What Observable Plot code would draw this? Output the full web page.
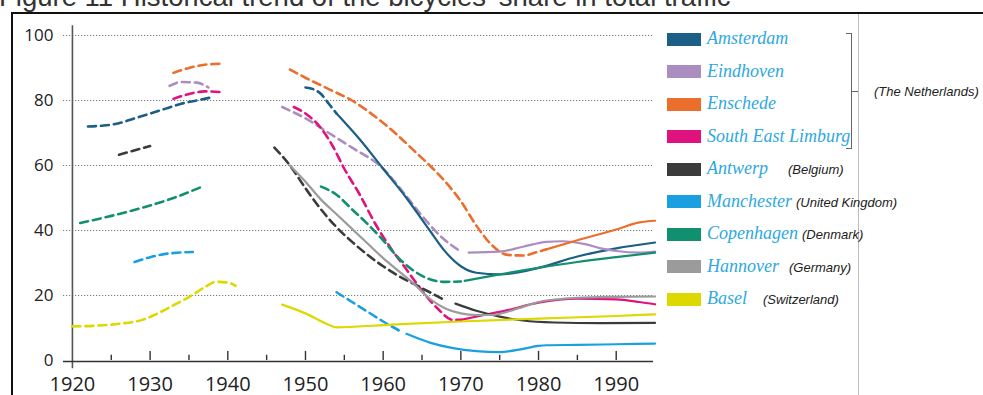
<!DOCTYPE html>
<html><head><meta charset="utf-8">
<script src="https://cdn.jsdelivr.net/npm/d3@7"></script>
<script src="https://cdn.jsdelivr.net/npm/@observablehq/plot@0.6"></script>
<style>
body{margin:0;background:#fff;}
#wrap{position:relative;width:983px;height:395px;overflow:hidden;font-family:"Liberation Sans",Arial,sans-serif;}
#title{position:absolute;left:-1px;top:-17px;font-size:27.5px;line-height:28px;color:#333;white-space:nowrap;}
#frame{position:absolute;left:11px;top:12px;width:980px;height:400px;border-left:2px solid #111;border-top:2px solid #111;}
#rline{position:absolute;left:858px;top:14px;width:1px;height:381px;background:#bdbdbd;}
#chart{position:absolute;left:0;top:0;}
.sw{position:absolute;width:34px;height:13px;}
.lab{position:absolute;font-family:"Liberation Serif","Times New Roman",serif;font-style:italic;font-size:18px;color:#2ea8e0;white-space:nowrap;line-height:18px;}
.cty{position:absolute;font-family:"Liberation Sans",Arial,sans-serif;font-style:italic;font-size:13px;color:#222;white-space:nowrap;line-height:13px;}
.br{position:absolute;background:#666;}
</style></head>
<body>
<div id="wrap">
  <div id="title">Figure 11 Historical trend of the bicycles’ share in total traffic</div>
  <div id="frame"></div>
  <div id="rline"></div>
  <div id="chart"></div>
  <div id="legend"></div>
</div>
<script>
// ---- categories ----
const cities = ["Amsterdam","Eindhoven","Enschede","South East Limburg","Antwerp","Manchester","Copenhagen","Hannover","Basel"];
const countries = ["","","","","(Belgium)","(United Kingdom)","(Denmark)","(Germany)","(Switzerland)"];
const countryX = [0,0,0,0,788,796,802,789,763];
const colors = ["#1b5e86","#ab8ebf","#ec6e2c","#e0137e","#3b3b3b","#1aa0e0","#10906f","#9b9b9b","#dcd800"];
const groupLabel = "(The Netherlands)";

// ---- tick labels ----
const yTicks = [0,20,40,60,80,100];
const xTicks = [1920,1930,1940,1950,1960,1970,1980,1990];
const xMinorTicks = [1925,1935,1945,1955,1965,1975,1985];

// ---- series values [year, share %] ----
const amsterdamPre = [[1922,72],[1924,72.3],[1926,73],[1928,74.5],[1930,76],[1932,77.5],[1934,79],[1936,80],[1938,81]];
const amsterdamPostDash = [[1950,84],[1951,83.5],[1952,82],[1953,79],[1954,76]];
const amsterdamSolid = [[1954,76],[1957,68],[1960,59],[1963,50],[1966,40],[1968,33.5],[1970,29],[1972,27],[1975,26.5],[1980,28.5],[1985,32],[1990,34.5],[1995,36.3]];

const eindhovenPre = [[1932.5,84.5],[1934,85.7],[1936,85.5],[1937.5,84]];
const eindhovenPostDash = [[1947,78],[1950,74.5],[1953,70],[1956,65.5],[1960,59],[1962.5,52],[1965,44.5],[1967.5,38],[1970,33.5]];
const eindhovenSolid = [[1971,33.2],[1975,33.5],[1978,35],[1981,36.5],[1983,36.7],[1986,35.8],[1988,34.5],[1990,33.7],[1993,33.2],[1995,33.5]];

const enschedePre = [[1933,88.5],[1935,90],[1937,91],[1939,91.3]];
const enschedePostDash = [[1948,89.5],[1950,87],[1953,83.5],[1956,80],[1959,75],[1962,69],[1964,64.5],[1966,60],[1968,55],[1970,49],[1972,41.5],[1974,35.5],[1976,32.5],[1978,32.3],[1980,33.5],[1981,34.2]];
const enschedeSolid = [[1981,34.2],[1985,37],[1990,40.3],[1993,42.5],[1995,43]];

const limburgPre = [[1933,80.5],[1935,82],[1937,82.8],[1939,82.6]];
const limburgPostDash = [[1948.5,78],[1950,76],[1952,71.5],[1953.5,66],[1955,59],[1957,51],[1959,42],[1961,34.5],[1963,28],[1965,21.5],[1967,16],[1969,12.5],[1970,12.5]];
const limburgSolid = [[1970,12.5],[1973,14],[1976,15.5],[1980,17.8],[1985,19],[1990,18.8],[1993,18],[1995,17.3]];

const antwerpPre = [[1926,63.3],[1930,66]];
const antwerpPostDash = [[1946,65.5],[1948,60],[1950,53],[1952,46.5],[1954,41],[1956,36.5],[1958,32.5],[1960,29],[1962,26],[1964,23.5],[1966,21],[1968,18.5]];
const antwerpSolid = [[1969.3,17.5],[1972,15.3],[1975,13.5],[1978,12.3],[1982,11.7],[1988,11.5],[1995,11.6]];

const manchesterPre = [[1928,30.3],[1930,31.8],[1932,32.8],[1935.5,33.4]];
const manchesterPostDash = [[1954,21],[1956,18],[1958,15],[1960,12],[1962,9.3]];
const manchesterSolid = [[1963,8.2],[1966,5.5],[1969,3.8],[1972,2.9],[1975,2.6],[1978,3.6],[1980,4.5],[1981,4.7],[1985,4.8],[1990,5],[1995,5.2]];

const copenhagenPre = [[1921,42.3],[1925,44.5],[1929,47],[1933,50],[1936.5,53.3]];
const copenhagenPostDash = [[1952,53.5],[1954,51],[1956,46.5],[1958,42],[1960,37],[1962,31.5],[1964,27.5],[1966,25],[1968,24.2],[1970,24.3]];
const copenhagenSolid = [[1970.5,24.5],[1975,26.5],[1980,28.5],[1985,30.3],[1990,31.8],[1995,33.2]];

const hannoverSolid = [[1948,60],[1950,55],[1952,49.5],[1954,45],[1956,40.5],[1958,36],[1960,31.5],[1962,27.5],[1964,23.5],[1966,19],[1968,16],[1970,14.5],[1972,14],[1974,14],[1976,15],[1978,16.5],[1980,18],[1985,19.3],[1990,19.6],[1995,19.7]];

const baselPre = [[1920,10.5],[1923,10.7],[1926,11.3],[1929,12.5],[1931,14.5],[1933,17],[1935,19.5],[1937,22.5],[1938.5,24.2],[1940,24],[1941,23]];
const baselSolid = [[1947,17.2],[1950,14.5],[1953,11],[1954,10.2],[1960,10.9],[1970,12],[1980,12.9],[1990,13.7],[1995,14.2]];

// segment list: [city, dashed?, points]
const segments = [
  ["Amsterdam",true,amsterdamPre],["Amsterdam",true,amsterdamPostDash],["Amsterdam",false,amsterdamSolid],
  ["Eindhoven",true,eindhovenPre],["Eindhoven",true,eindhovenPostDash],["Eindhoven",false,eindhovenSolid],
  ["Enschede",true,enschedePre],["Enschede",true,enschedePostDash],["Enschede",false,enschedeSolid],
  ["South East Limburg",true,limburgPre],["South East Limburg",true,limburgPostDash],["South East Limburg",false,limburgSolid],
  ["Antwerp",true,antwerpPre],["Antwerp",true,antwerpPostDash],["Antwerp",false,antwerpSolid],
  ["Manchester",true,manchesterPre],["Manchester",true,manchesterPostDash],["Manchester",false,manchesterSolid],
  ["Copenhagen",true,copenhagenPre],["Copenhagen",true,copenhagenPostDash],["Copenhagen",false,copenhagenSolid],
  ["Hannover",false,hannoverSolid],
  ["Basel",true,baselPre],["Basel",false,baselSolid]
];

const rows = [];
segments.forEach(([city, dashed, pts], i) => {
  pts.forEach(([year, value]) => rows.push({city, dashed, seg: i, year, value}));
});
const dashRows = rows.filter(d => d.dashed);
const solidRows = rows.filter(d => !d.dashed);

const chart = Plot.plot({
  width: 983,
  height: 395,
  marginTop: 35,
  marginBottom: 35,
  marginLeft: 63,
  marginRight: 330,
  style: {fontFamily: "'Open Sans', sans-serif", background: "transparent", overflow: "visible"},
  x: {domain: [1918.85, 1994.8], label: null},
  y: {domain: [0, 100], label: null},
  color: {domain: cities, range: colors},
  marks: [
    Plot.ruleY(yTicks.filter(d => d > 0), {stroke: "#7a7a7a", strokeDasharray: "1.2,1.8", strokeWidth: 1.1}),
    Plot.ruleX([xTicks[0]], {y1: -2.5, y2: 103, stroke: "#555", strokeWidth: 1.6, clip: false}),
    Plot.ruleY([0], {stroke: "#333", strokeWidth: 1.6, dy: 1}),
    Plot.ruleX(xTicks.slice(1), {y1: 0, y2: 2.8, stroke: "#333", strokeWidth: 1.4}),
    Plot.ruleX(xMinorTicks, {y1: 0, y2: 1.6, stroke: "#333", strokeWidth: 1.4}),
    Plot.axisX(xTicks, {tickSize: 0, tickPadding: 16, fontSize: 20, fill: "#222", tickFormat: "d", label: null, style: {letterSpacing: "-1px"}}),
    Plot.axisY(yTicks, {tickSize: 0, tickPadding: 10, fontSize: 17, fill: "#222", label: null}),
    Plot.line(dashRows, {x: "year", y: "value", z: "seg", stroke: "city", strokeWidth: 2.6, strokeDasharray: "8,5", curve: "monotone-x"}),
    Plot.line(solidRows, {x: "year", y: "value", z: "seg", stroke: "city", strokeWidth: 2.2, curve: "monotone-x"})
  ]
});
document.getElementById("chart").appendChild(chart);

// ---- legend ----
const legend = document.getElementById("legend");
const rowH = 32.5, top0 = 39;
cities.forEach((c, i) => {
  const cy = top0 + i * rowH;
  const sw = document.createElement("div");
  sw.className = "sw"; sw.style.left = "667px"; sw.style.top = (cy - 6.5) + "px"; sw.style.background = colors[i];
  legend.appendChild(sw);
  const lb = document.createElement("div");
  lb.className = "lab"; lb.style.left = "707px"; lb.style.top = (cy - 10) + "px"; lb.textContent = c;
  legend.appendChild(lb);
  if (countries[i]) {
    const ct = document.createElement("div");
    ct.className = "cty"; ct.style.left = countryX[i] + "px"; ct.style.top = (cy - 6) + "px"; ct.textContent = countries[i];
    legend.appendChild(ct);
  }
});
// bracket for the Netherlands
function br(l, t, w, h) { const d = document.createElement("div"); d.className = "br"; Object.assign(d.style, {left: l + "px", top: t + "px", width: w + "px", height: h + "px"}); legend.appendChild(d); }
br(851, 33, 1, 116); br(846, 33, 5, 1); br(846, 148, 5, 1); br(851, 91, 7, 1);
const nl = document.createElement("div");
nl.className = "cty"; nl.style.left = "874px"; nl.style.top = "85px"; nl.textContent = groupLabel;
legend.appendChild(nl);
</script>
</body></html>
